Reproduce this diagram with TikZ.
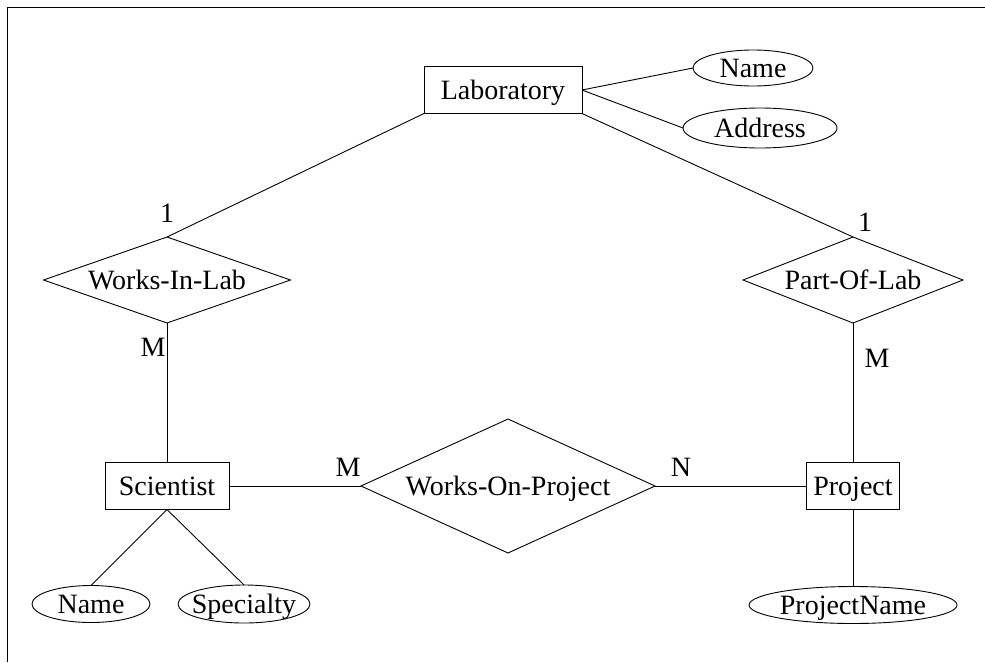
\documentclass[tikz,border=0pt]{standalone}
\usepackage{fontspec}
\setmainfont{Liberation Serif}
\usetikzlibrary{shapes.geometric}
% text of zero width, so that the shape size comes from minimum width/height only
\newcommand\nowidth[1]{\makebox[0pt]{#1}}
\tikzset{
  every node/.style={font=\fontsize{28}{32}\selectfont, inner sep=0pt, outer sep=0pt,
    text height=18.5pt, text depth=0pt},
  entity/.style={draw, line width=0.9pt, rectangle, minimum height=47pt},
  relation/.style={draw, line width=0.9pt, diamond},
  attribute/.style={draw, line width=0.9pt, ellipse},
  link/.style={line width=0.9pt},
  card/.style={}
}
\begin{document}
\begin{tikzpicture}[x=1pt,y=-1pt]
  \useasboundingbox (0,0) rectangle (985,662);
  % frame
  \draw[line width=1pt] (7,662) -- (7,7) -- (985,7);

  % entities
  \node[entity, minimum width=158pt] (lab) at (503,90) {Laboratory};
  \node[entity, minimum width=124pt] (sci) at (167,486) {Scientist};
  \node[entity, minimum width=93pt] (proj) at (853,486) {Project};

  % relationships
  \node[relation, minimum width=247pt, minimum height=86pt] (wil) at (167,280) {\nowidth{Works-In-Lab}};
  \node[relation, minimum width=220pt, minimum height=86pt] (pol) at (853,280) {\nowidth{Part-Of-Lab}};
  \node[relation, minimum width=294pt, minimum height=134pt] (wop) at (508,486) {\nowidth{Works-On-Project}};

  % attributes
  \node[attribute, minimum width=120pt, minimum height=36pt] (labname) at (753,68) {\nowidth{Name}};
  \node[attribute, minimum width=154pt, minimum height=40pt] (labaddr) at (760,128) {\nowidth{Address}};
  \node[attribute, minimum width=118pt, minimum height=37pt] (sciname) at (91,604) {\nowidth{Name}};
  \node[attribute, minimum width=132pt, minimum height=38pt] (scispec) at (244,604) {\nowidth{Specialty}};
  \node[attribute, minimum width=208pt, minimum height=37pt] (pname) at (853,605) {\nowidth{ProjectName}};

  % connectors
  \draw[link] (lab.east) -- (labname.west);
  \draw[link] (lab.east) -- (labaddr.west);
  \draw[link] (lab.south west) -- (wil.north);
  \draw[link] (lab.south east) -- (pol.north);
  \draw[link] (wil.south) -- (sci.north);
  \draw[link] (pol.south) -- (proj.north);
  \draw[link] (sci.east) -- (wop.west);
  \draw[link] (wop.east) -- (proj.west);
  \draw[link] (sci.south) -- (sciname.north);
  \draw[link] (sci.south) -- (scispec.north);
  \draw[link] (proj.south) -- (pname.north);

  % cardinalities
  \node[card] (c1) at (167,213) {1};
  \node[card] (c2) at (153,347) {M};
  \node[card] (c3) at (865,222) {1};
  \node[card] (c4) at (877,358) {M};
  \node[card] (c5) at (348,467) {M};
  \node[card] (c6) at (681,467) {N};
\end{tikzpicture}
\end{document}
